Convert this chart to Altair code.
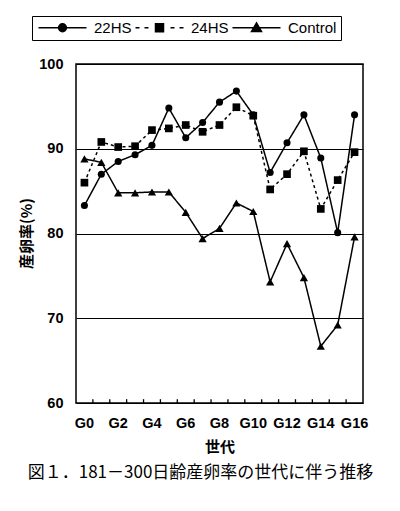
import altair as alt
import pandas as pd

gens = [f"G{i}" for i in range(17)]
label_gens = gens[::2]
series_names = ["22HS", "24HS", "Control"]
hs22 = [83.3, 87.0, 88.5, 89.3, 90.4, 94.8, 91.3, 93.1, 95.5, 96.8, 94.0, 87.2, 90.7, 94.0, 88.9, 80.1, 94.0]
hs24 = [86.0, 90.8, 90.2, 90.3, 92.2, 92.4, 92.8, 92.0, 92.8, 94.9, 93.9, 85.2, 87.0, 89.7, 82.9, 86.3, 89.6]
control = [88.8, 88.4, 84.8, 84.8, 84.9, 84.9, 82.5, 79.4, 80.6, 83.6, 82.6, 74.3, 78.8, 74.8, 66.7, 69.2, 79.6]
y_ticks = [60, 70, 80, 90, 100]
caption = "図１．181－300日齢産卵率の世代に伴う推移"
y_title = "産卵率(%)"
x_title = "世代"

rows = []
for name, vals in zip(series_names, [hs22, hs24, control]):
    for g, v in zip(gens, vals):
        rows.append({"gen": g, "series": name, "value": v})
df = pd.DataFrame(rows)
# inward tick marks at category boundaries (from the y-axis minimum up a short way)
tick_df = pd.DataFrame({"gen": gens[1:], "lo": [60.0] * 16, "hi": [60.45] * 16})

marker_shapes = ["circle", "square", "triangle-up"]
marker_sizes = [50, 68, 90]
# legend glyphs: line + marker, drawn as custom symbol paths
legend_paths = [
    "M-1,0H8.6M4.58,0A0.78,0.78,0,1,1,3.02,0A0.78,0.78,0,1,1,4.58,0Z",
    "M-1,0H-0.2M0.8,0H1.6M6,0H6.8M7.8,0H8.6M3,-0.8H4.6V0.8H3Z",
    "M-1,0H8.6M3.8,-0.95L4.8,0.75H2.8Z",
]

x_scale = alt.Scale(type="band", paddingInner=0, paddingOuter=0)
x_enc = alt.X(
    "gen:N", sort=gens, scale=x_scale,
    axis=alt.Axis(values=label_gens, labelAngle=0, ticks=False, domain=False, grid=False,
                  labelPadding=13, titleY=43, titleBaseline="middle"),
    title=x_title,
)
x_plain = alt.X("gen:N", sort=gens)
y_enc = alt.Y(
    "value:Q",
    scale=alt.Scale(domain=[60, 100], nice=False, zero=False),
    axis=alt.Axis(values=y_ticks, ticks=False, domain=False, grid=True, gridColor="black",
                  gridWidth=1, gridOpacity=1, labelPadding=13,
                  titleX=-50, titleY=169, titleBaseline="middle"),
    title=y_title,
)

base = alt.Chart(df)

lines = base.mark_line(color="black", strokeWidth=1.5).encode(
    x=x_enc, y=y_enc,
    detail="series:N",
    strokeDash=alt.StrokeDash("series:N", scale=alt.Scale(domain=series_names, range=[[1, 0], [3, 3], [1, 0]]), legend=None),
)

points = base.mark_point(filled=True, color="black", opacity=1).encode(
    x=x_plain, y="value:Q",
    shape=alt.Shape("series:N", scale=alt.Scale(domain=series_names, range=marker_shapes), legend=None),
    size=alt.Size("series:N", scale=alt.Scale(domain=series_names, range=marker_sizes), legend=None),
)

legend_layer = base.mark_point(filled=False, color="black", fill="black", stroke="black",
                               strokeWidth=1.5, opacity=0, size=100).encode(
    x=x_plain, y="value:Q",
    shape=alt.Shape(
        "series:N",
        scale=alt.Scale(domain=series_names, range=legend_paths),
        legend=alt.Legend(
            title=None, orient="none", legendX=-44, legendY=-48, direction="horizontal",
            strokeColor="black", padding=4, symbolSize=100, symbolOpacity=1,
            symbolStrokeWidth=1.5,
            labelFont="Liberation Sans", labelFontSize=15, labelColor="black",
            labelOffset=43, columnPadding=0,
        ),
    ),
)

ticks = alt.Chart(tick_df).mark_rule(color="black", strokeWidth=1.3).encode(
    x=alt.X("gen:N", sort=gens, bandPosition=0),
    y=alt.Y("lo:Q"),
    y2=alt.Y2("hi:Q"),
)

chart = alt.layer(lines, points, legend_layer, ticks).resolve_scale(
    shape="independent"
).properties(
    width=287, height=339,
    autosize=alt.AutoSizeParams(type="none"),
    padding={"left": 68, "top": 56, "right": 29, "bottom": 100},
    title=alt.TitleParams(caption, orient="bottom", anchor="middle", font="Noto Sans CJK JP",
                          fontSize=17, fontWeight="normal", color="black", offset=11, dx=-19),
).configure_view(
    stroke="black", strokeWidth=1.5
).configure_axis(
    labelFont="Liberation Sans", labelFontWeight="bold", labelFontSize=14.5, labelColor="black",
    titleFont="Noto Sans CJK JP", titleFontWeight="bold", titleFontSize=15, titleColor="black",
)

chart.save("out.html", embed_options={"renderer": "svg", "actions": False})
